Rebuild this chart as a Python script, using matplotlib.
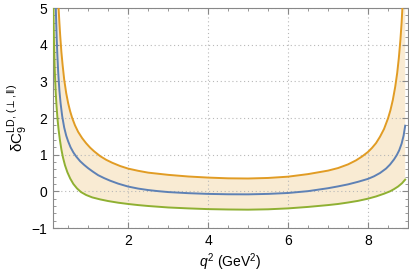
import matplotlib
matplotlib.use('Agg')
from matplotlib import pyplot as plt
from matplotlib.ticker import MultipleLocator

plt.rcParams['font.family'] = ['Liberation Sans', 'DejaVu Sans']
plt.rcParams['mathtext.fontset'] = 'custom'
plt.rcParams['mathtext.rm'] = 'Liberation Sans'
plt.rcParams['mathtext.it'] = 'Liberation Sans:italic'

# upper curve (orange)
q_upper = [0.26, 0.28, 0.30, 0.33, 0.36, 0.40, 0.45, 0.50, 0.55, 0.60, 0.67, 0.75, 0.85,
           0.95, 1.05, 1.15, 1.30, 1.45, 1.60, 1.80, 2.00, 2.25, 2.5, 2.75, 3.0, 3.5,
           4.0, 4.5, 5.0, 5.5, 6.0, 6.5, 7.0, 7.25, 7.5, 7.7, 7.85, 8.0, 8.1, 8.2,
           8.3, 8.4, 8.5, 8.56, 8.62, 8.68, 8.73, 8.77, 8.81, 8.84, 8.86]
c_upper = [5.0, 4.6, 4.25, 3.8, 3.45, 3.05, 2.68, 2.40, 2.18, 2.00, 1.80, 1.62, 1.45,
           1.31, 1.19, 1.09, 0.96, 0.86, 0.78, 0.69, 0.62, 0.56, 0.51, 0.48, 0.45, 0.405,
           0.375, 0.355, 0.35, 0.365, 0.40, 0.47, 0.565, 0.635, 0.735, 0.845, 0.95, 1.075, 1.185, 1.315,
           1.49, 1.70, 1.99, 2.21, 2.49, 2.85, 3.23, 3.63, 4.13, 4.6, 5.0]

# central curve (blue)
q_central = [0.19, 0.20, 0.215, 0.23, 0.25, 0.28, 0.31, 0.35, 0.40, 0.45, 0.5, 0.56, 0.63,
             0.7, 0.8, 0.9, 1.0, 1.12, 1.25, 1.4, 1.55, 1.75, 2.0, 2.25, 2.5, 2.75,
             3.0, 3.5, 4.0, 4.5, 5.0, 5.5, 6.0, 6.5, 7.0, 7.25, 7.5, 7.75, 8.0, 8.15,
             8.3, 8.45, 8.55, 8.65, 8.72, 8.78, 8.84, 8.89, 8.93]
c_central = [5.0, 4.6, 4.1, 3.7, 3.25, 2.75, 2.4, 2.05, 1.74, 1.52, 1.36, 1.2, 1.06,
             0.95, 0.82, 0.72, 0.63, 0.535, 0.44, 0.36, 0.29, 0.21, 0.13, 0.075, 0.035, 0.005,
             -0.02, -0.05, -0.07, -0.08, -0.082, -0.07, -0.045, 0.005, 0.085, 0.135, 0.19, 0.26, 0.34, 0.41,
             0.50, 0.62, 0.73, 0.87, 0.99, 1.12, 1.30, 1.52, 1.79]

# lower curve (green)
q_lower = [0.13, 0.135, 0.14, 0.15, 0.16, 0.175, 0.19, 0.21, 0.235, 0.26, 0.29, 0.33, 0.37,
           0.42, 0.48, 0.55, 0.63, 0.72, 0.82, 0.95, 1.1, 1.3, 1.5, 1.75, 2.0, 2.25,
           2.5, 3.0, 3.5, 4.0, 4.5, 5.0, 5.5, 6.0, 6.5, 7.0, 7.25, 7.5, 7.75, 8.0,
           8.2, 8.4, 8.55, 8.65, 8.75, 8.85, 8.93]
c_lower = [5.0, 4.6, 4.3, 3.8, 3.4, 3.0, 2.65, 2.3, 1.95, 1.68, 1.42, 1.14, 0.92,
           0.71, 0.52, 0.35, 0.2, 0.08, -0.02, -0.1, -0.165, -0.22, -0.265, -0.31, -0.345, -0.375,
           -0.4, -0.44, -0.465, -0.485, -0.495, -0.5, -0.49, -0.465, -0.425, -0.375, -0.345, -0.305, -0.26, -0.2,
           -0.14, -0.065, 0.0, 0.06, 0.13, 0.22, 0.32]

orange = '#E19C24'
blue = '#5E81B5'
green = '#8FB032'

fig = plt.figure(figsize=(4.09, 2.77), dpi=100)
ax = fig.add_axes([53/409, 1-228/277, 355/409, 220/277])

# band between lower and upper curve, closed above the plot top
top = 6
bx = q_lower + [q_lower[-1], q_upper[-1]] + q_upper[::-1] + [q_upper[0], q_lower[0]]
by = c_lower + [top, top] + c_upper[::-1] + [top, top]
ax.fill(bx, by, color=orange, alpha=0.2, lw=0, zorder=1)

ax.plot(q_upper, c_upper, color=orange, lw=1.4, zorder=3)
ax.plot(q_central, c_central, color=blue, lw=1.4, zorder=3)
ax.plot(q_lower, c_lower, color=green, lw=1.4, zorder=3)

ax.set_xlim(0.12, 9.0)
ax.set_ylim(-1, 5)
ax.xaxis.set_major_locator(MultipleLocator(2))
ax.xaxis.set_minor_locator(MultipleLocator(0.5))
ax.yaxis.set_major_locator(MultipleLocator(1))
ax.yaxis.set_minor_locator(MultipleLocator(0.2))
ax.grid(True, which='major', color='#b8b8b8', ls=(0, (1, 2.5)), lw=0.8, zorder=0)

for s in ax.spines.values():
    s.set_color('#888888')
    s.set_linewidth(0.8)
ax.tick_params(which='both', direction='in', top=True, right=True, color='#888888', labelsize=10)
ax.tick_params(which='major', length=4, width=0.8, pad=4)
ax.tick_params(which='minor', length=2, width=0.6)

ax.set_xlabel(r'$q^2$ (GeV$^2$)', fontsize=10, labelpad=3)
ax.set_ylabel(r'δ$\mathrm{C}_9^{\mathrm{LD},\,(\perp,\|)}$', fontsize=11, labelpad=2)

fig.savefig('out.png', dpi=100)
